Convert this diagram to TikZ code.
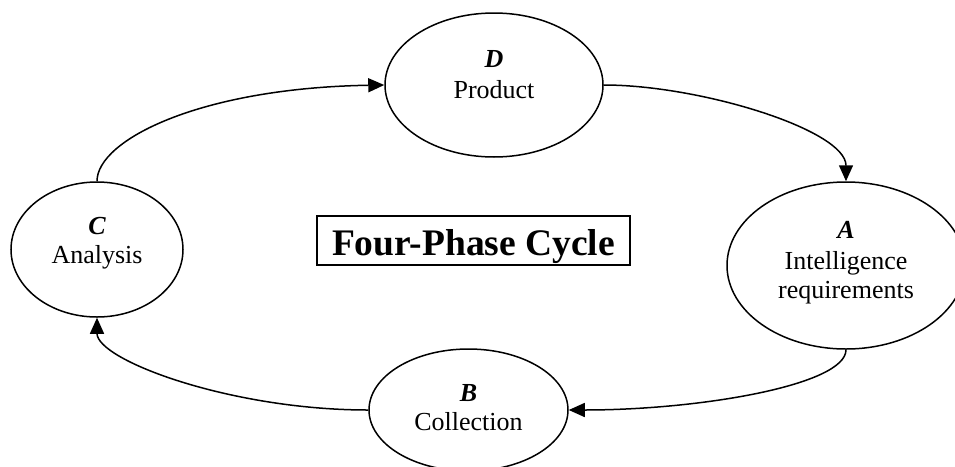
\documentclass[tikz,border=0pt]{standalone}
\usepackage{fontspec}
\setmainfont{Liberation Serif}
\usetikzlibrary{shapes.geometric,arrows.meta}
\begin{document}
\begin{tikzpicture}[x=1pt,y=-1pt,
  phase/.style={ellipse,draw,line width=1.5pt,inner sep=0pt},
  letter/.style={anchor=base,inner sep=0pt,font=\fontsize{26}{30}\selectfont\bfseries\itshape},
  word/.style={anchor=base,inner sep=0pt,font=\fontsize{26}{30}\selectfont},
  flow/.style={line width=1.5pt,-{Triangle[length=16pt,width=14pt]}},
  titlebox/.style={draw,line width=2pt,inner sep=0pt,minimum width=313pt,minimum height=49pt,
    text height=30pt,text depth=0pt,font=\fontsize{37.5}{40}\selectfont\bfseries}]
\useasboundingbox (0,0) rectangle (955,466);

% ellipses
\node[phase,minimum width=218pt,minimum height=144pt] (D) at (494,85) {};
\node[phase,minimum width=238pt,minimum height=167pt] (A) at (846,265.5) {};
\node[phase,minimum width=199pt,minimum height=122pt] (B) at (468.5,410) {};
\node[phase,minimum width=172pt,minimum height=135pt] (C) at (97,249.5) {};

% texts
\node[letter] (Dl) at (494,67) {D};
\node[word] (Dw) at (494,98) {Product};
\node[letter] (Al) at (846,238.3) {A};
\node[word] (Aw1) at (846,269.3) {Intelligence};
\node[word] (Aw2) at (846,298.3) {requirements};
\node[letter] (Bl) at (468.5,401.7) {B};
\node[word] (Bw) at (468.5,430) {Collection};
\node[letter] (Cl) at (97,234) {C};
\node[word] (Cw) at (97,263.3) {Analysis};

% title
\node[titlebox] (T) at (473.5,240.5) {Four-Phase Cycle};

% connectors
\draw[flow] (C.north) .. controls (97,140) and (200,88) .. (D.west);
\draw[flow] (D.east) .. controls (700,85) and (846,130) .. (A.north);
\draw[flow] (A.south) .. controls (846,385) and (700,410) .. (B.east);
\draw[flow] (B.west) .. controls (230,410) and (97,360) .. (C.south);
\end{tikzpicture}
\end{document}
